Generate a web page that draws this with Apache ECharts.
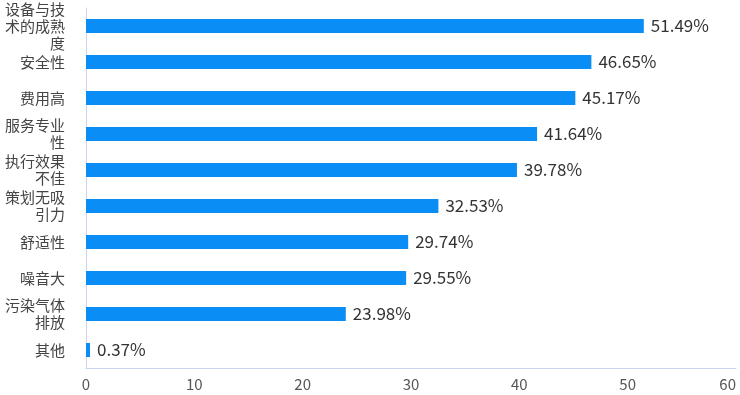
<!DOCTYPE html>
<html><head><meta charset="utf-8">
<script src="https://cdn.jsdelivr.net/npm/echarts@6/dist/echarts.min.js"></script>
<style>html,body{margin:0;padding:0;background:#fff}#c{width:740px;height:395px}</style>
</head><body><div id="c"></div>
<script>
const categories = ['设备与技术的成熟度','安全性','费用高','服务专业性','执行效果不佳','策划无吸引力','舒适性','噪音大','污染气体排放','其他'];
const values = [51.49, 46.65, 45.17, 41.64, 39.78, 32.53, 29.74, 29.55, 23.98, 0.37];
const xTicks = [0, 10, 20, 30, 40, 50, 60];

const chart = echarts.init(document.getElementById('c'));
const font = '"Noto Sans CJK SC", "Noto Sans", sans-serif';
chart.setOption({
  animation: false,
  grid: { left: 86, right: 4, top: 8, bottom: 27, containLabel: false, outerBoundsMode: 'none' },
  xAxis: {
    type: 'value', min: xTicks[0], max: xTicks[xTicks.length-1], interval: 10,
    axisLine: { show: true, lineStyle: { color: '#c9d6f0' } },
    axisTick: { show: false },
    splitLine: { show: false },
    axisLabel: { color: '#555', fontSize: 15, fontFamily: font, margin: 9, alignMaxLabel: 'right' }
  },
  yAxis: {
    type: 'category', inverse: true, data: categories,
    axisLine: { show: true, lineStyle: { color: '#c9d6f0' } },
    axisTick: { show: false },
    axisLabel: { color: '#444', fontSize: 15, fontFamily: font, width: 64, overflow: 'break', lineHeight: 17, margin: 21, align: 'right' }
  },
  series: [{
    type: 'bar', data: values, barWidth: 14,
    itemStyle: { color: '#0a8ef5' },
    label: { show: true, position: 'right', distance: 7, color: '#333', fontSize: 17, fontFamily: font, formatter: p => p.value.toFixed(2) + '%' }
  }]
});
</script></body></html>
